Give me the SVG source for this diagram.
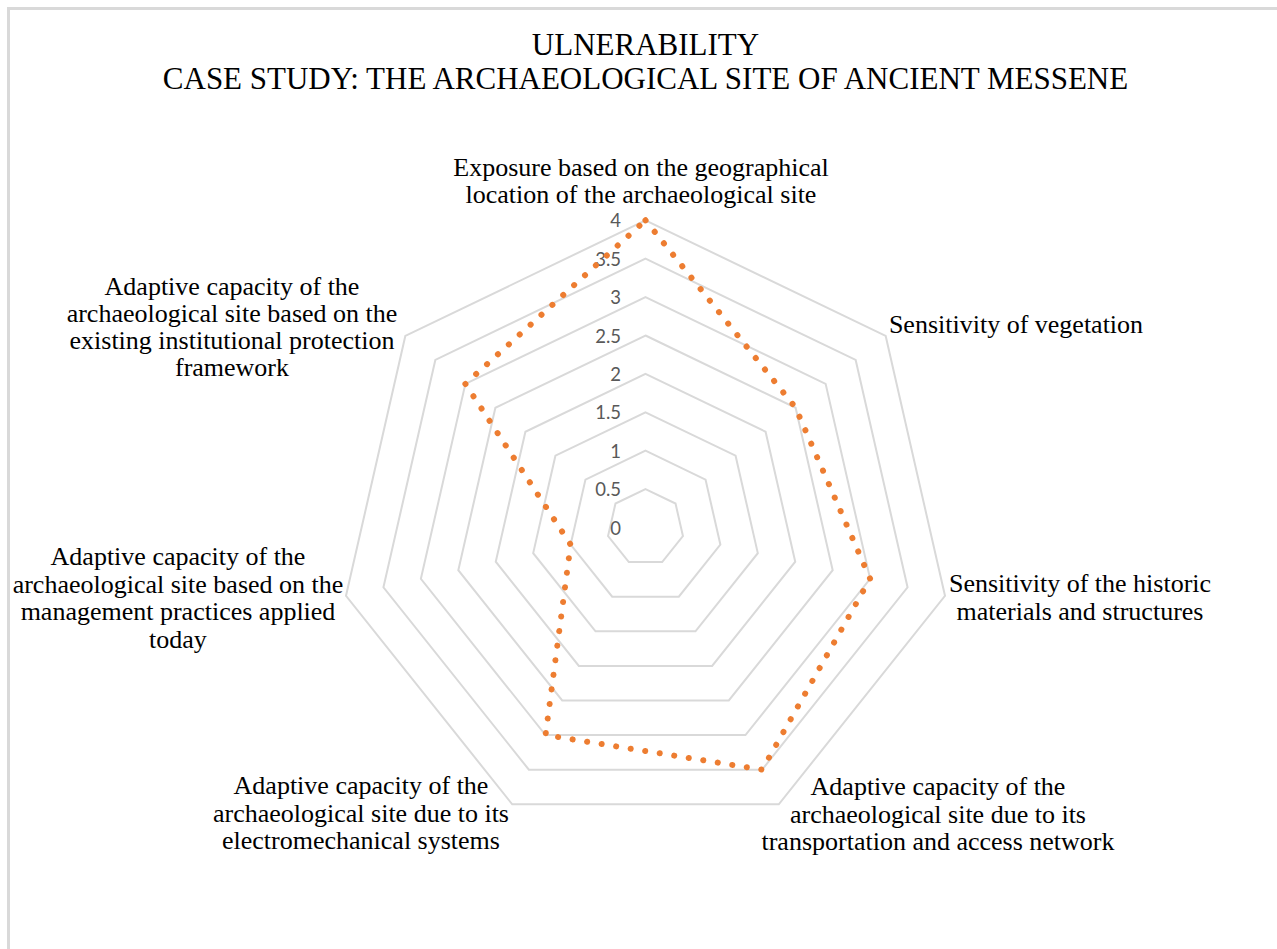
<svg xmlns="http://www.w3.org/2000/svg" width="1277" height="949" viewBox="0 0 1277 949">
<style>
.ring{fill:none;stroke:#D9D9D9;stroke-width:2}
.tick{font-family:Lato,"Open Sans",sans-serif;font-size:18.5px;fill:#595959;text-anchor:end}
.cat{font-family:"Liberation Serif","Times New Roman",serif;font-size:26px;fill:#000;text-anchor:middle}
.title{font-family:"Liberation Serif","Times New Roman",serif;font-size:31px;fill:#000;text-anchor:middle}
.series{fill:none;stroke:#ED7D31;stroke-width:6;stroke-linecap:round;stroke-linejoin:round;stroke-dasharray:0.1 14.6}
</style>
<rect x="0" y="0" width="1277" height="949" fill="#fff"/>
<path d="M8.5 949 V8.5 H1277" fill="none" stroke="#D9D9D9" stroke-width="3"/>
<g id="title">
<text class="title" x="645.5" y="55">ULNERABILITY</text>
<text class="title" x="645.5" y="88.5">CASE STUDY: THE ARCHAEOLOGICAL SITE OF ANCIENT MESSENE</text>
</g>
<g id="grid">
<polygon class="ring" points="645.5,489.1 675.52,503.56 682.94,536.04 662.16,562.1 628.84,562.1 608.06,536.04 615.48,503.56"/>
<polygon class="ring" points="645.5,450.7 705.54,479.62 720.37,544.59 678.82,596.69 612.18,596.69 570.63,544.59 585.46,479.62"/>
<polygon class="ring" points="645.5,412.3 735.57,455.67 757.81,553.13 695.48,631.29 595.52,631.29 533.19,553.13 555.43,455.67"/>
<polygon class="ring" points="645.5,373.9 765.59,431.73 795.25,561.68 712.14,665.89 578.86,665.89 495.75,561.68 525.41,431.73"/>
<polygon class="ring" points="645.5,335.5 795.61,407.79 832.69,570.22 728.8,700.49 562.2,700.49 458.31,570.22 495.39,407.79"/>
<polygon class="ring" points="645.5,297.1 825.63,383.85 870.12,578.77 745.47,735.08 545.53,735.08 420.88,578.77 465.37,383.85"/>
<polygon class="ring" points="645.5,258.7 855.66,359.91 907.56,587.31 762.13,769.68 528.87,769.68 383.44,587.31 435.34,359.91"/>
<polygon class="ring" points="645.5,220.3 885.68,335.96 945,595.86 778.79,804.28 512.21,804.28 346,595.86 405.32,335.96"/>
</g>
<g id="axis-ticks">
<text class="tick" x="621" y="534.5">0</text>
<text class="tick" x="621" y="496.1">0.5</text>
<text class="tick" x="621" y="457.7">1</text>
<text class="tick" x="621" y="419.3">1.5</text>
<text class="tick" x="621" y="380.9">2</text>
<text class="tick" x="621" y="342.5">2.5</text>
<text class="tick" x="621" y="304.1">3</text>
<text class="tick" x="621" y="265.7">3.5</text>
<text class="tick" x="621" y="227.3">4</text>
</g>
<g id="connectors">
<path class="series" d="M645.5 220.3 L795.61 407.79 L870.12 578.77 L762.13 769.68 L545.53 735.08 L570.63 544.59 L465.37 383.85 Z"/>
</g>
<g id="label-exposure">
<text class="cat" x="641" y="176">Exposure based on the geographical</text>
<text class="cat" x="641" y="203">location of the archaeological site</text>
</g>
<g id="label-vegetation">
<text class="cat" x="1016" y="333">Sensitivity of vegetation</text>
</g>
<g id="label-materials">
<text class="cat" x="1080" y="592">Sensitivity of the historic</text>
<text class="cat" x="1080" y="619.5">materials and structures</text>
</g>
<g id="label-transport">
<text class="cat" x="938" y="795">Adaptive capacity of the</text>
<text class="cat" x="938" y="822.5">archaeological site due to its</text>
<text class="cat" x="938" y="850">transportation and access network</text>
</g>
<g id="label-electromechanical">
<text class="cat" x="361" y="794">Adaptive capacity of the</text>
<text class="cat" x="361" y="821.5">archaeological site due to its</text>
<text class="cat" x="361" y="849">electromechanical systems</text>
</g>
<g id="label-management">
<text class="cat" x="178" y="565">Adaptive capacity of the</text>
<text class="cat" x="178" y="592.5">archaeological site based on the</text>
<text class="cat" x="178" y="620">management practices applied</text>
<text class="cat" x="178" y="647.5">today</text>
</g>
<g id="label-institutional">
<text class="cat" x="232" y="295">Adaptive capacity of the</text>
<text class="cat" x="232" y="322">archaeological site based on the</text>
<text class="cat" x="232" y="349">existing institutional protection</text>
<text class="cat" x="232" y="376">framework</text>
</g>
</svg>
